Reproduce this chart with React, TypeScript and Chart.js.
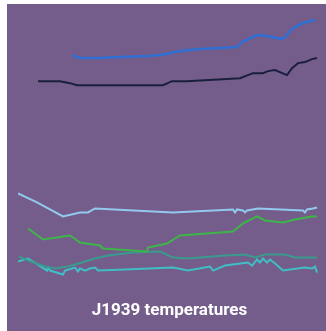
import React, { useEffect, useRef } from "react";
import { Chart, registerables } from "chart.js";

Chart.register(...registerables);

// time (minutes) and temperature readings per sensor
const blueT = [54, 62, 82, 102, 132, 149, 162, 182, 202, 219, 224, 239, 249, 264, 267, 275, 285, 297];
const blueV = [229, 226, 226, 227, 228, 230, 233, 235, 236, 237, 242, 249, 248, 245, 247, 256, 261, 264];

const navyT = [20, 42, 52, 59, 145, 154, 169, 222, 235, 245, 250, 257, 269, 274, 280, 287, 294, 299];
const navyV = [203, 203, 201, 199, 199, 203, 203, 206, 211, 211, 213, 214, 209, 216, 221, 222, 225, 226];

const lightT = [0, 19, 45, 62, 70, 77, 155, 215, 217, 219, 225, 227, 229, 240, 285, 287, 289, 295, 299];
const lightV = [91, 82, 68, 72, 72, 76, 72, 75, 72, 75, 74, 72, 74, 76, 74, 72, 75, 76, 77];

const greenT = [10, 25, 52, 62, 82, 85, 129, 130, 149, 162, 215, 225, 239, 247, 265, 277, 294, 299];
const greenV = [56, 45, 49, 42, 39, 36, 33, 37, 41, 49, 53, 61, 68, 64, 62, 65, 68, 68];

const tealT = [1, 10, 27, 37, 50, 64, 77, 90, 115, 142, 155, 169, 207, 227, 237, 247, 267, 277, 299];
const tealV = [28, 24, 18, 16, 18, 22, 26, 29, 32, 33, 27, 26, 29, 30, 27, 30, 30, 27, 27];

const cyanT = [0, 10, 20, 29, 30, 32, 45, 47, 57, 60, 62, 67, 72, 77, 80, 107, 155, 170, 192, 195, 207, 230, 234, 239, 242, 245, 249, 252, 257, 265, 287, 294, 297, 299];
const cyanV = [23, 26, 20, 14, 17, 14, 10, 14, 17, 13, 16, 14, 16, 17, 14, 15, 17, 14, 18, 14, 19, 22, 19, 25, 22, 26, 22, 25, 21, 14, 17, 16, 18, 12];

const titleText = "J1939 temperatures";

const pts = (t: number[], v: number[]) => t.map((x, i) => ({ x, y: v[i] }));

export default function App() {
  const ref = useRef<HTMLCanvasElement>(null);
  useEffect(() => {
    if (!ref.current) return;
    const mk = (label: string, t: number[], v: number[], color: string, w = 2) => ({
      label,
      data: pts(t, v),
      borderColor: color,
      backgroundColor: color,
      borderWidth: w,
      pointRadius: 0,
      tension: 0,
      fill: false,
    });
    const chart = new Chart(ref.current, {
      type: "line",
      data: {
        datasets: [
          mk("Sensor A", blueT, blueV, "#2f6fd4", 2.5),
          mk("Sensor B", navyT, navyV, "#1b1f3e", 2),
          mk("Sensor C", lightT, lightV, "#93c9ee", 2),
          mk("Sensor D", greenT, greenV, "#3db548", 2),
          mk("Sensor E", tealT, tealV, "#3a9a8e", 2),
          mk("Sensor F", cyanT, cyanV, "#40bec6", 2),
        ],
      },
      options: {
        responsive: false,
        animation: false,
        layout: { padding: { left: 11, right: 5, top: 10, bottom: 0 } },
        scales: {
          x: { type: "linear", min: 0, max: 303, display: false },
          y: { min: 0, max: 270, display: false },
        },
        plugins: {
          legend: { display: false },
          tooltip: { enabled: false },
          title: {
            display: true,
            text: titleText,
            position: "bottom",
            color: "#ffffff",
            font: { family: "Roboto", size: 17, weight: "bold" },
            padding: { top: 16, bottom: 10 },
          },
        },
      },
    });
    return () => chart.destroy();
  }, []);
  return (
    <div
      style={{
        position: "fixed",
        left: 7,
        top: 4,
        width: 319,
        height: 327,
        background: "#745d8a",
      }}
    >
      <canvas ref={ref} width={319} height={327} style={{ display: "block" }} />
    </div>
  );
}
